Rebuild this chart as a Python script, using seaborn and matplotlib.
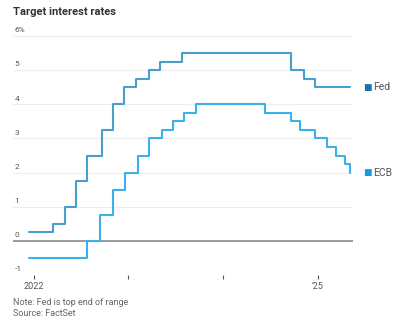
import matplotlib
matplotlib.use("Agg")
import matplotlib.pyplot as plt
import pandas as pd
import seaborn as sns

fed_dates = ['2021-12-15', '2022-03-16', '2022-05-04', '2022-06-15', '2022-07-27',
             '2022-09-21', '2022-11-02', '2022-12-14', '2023-02-01', '2023-03-22',
             '2023-05-03', '2023-07-26', '2024-09-18', '2024-11-07', '2024-12-18',
             '2025-05-05']
fed_vals = [0.25, 0.5, 1.0, 1.75, 2.5, 3.25, 4.0, 4.5, 4.75, 5.0, 5.25, 5.5,
            5.0, 4.75, 4.5, 4.5]

ecb_dates = ['2021-12-15', '2022-07-27', '2022-09-14', '2022-11-02', '2022-12-21',
             '2023-02-08', '2023-03-22', '2023-05-10', '2023-06-21', '2023-08-02',
             '2023-09-20', '2024-06-12', '2024-09-18', '2024-10-23', '2024-12-18',
             '2025-02-05', '2025-03-12', '2025-04-16', '2025-05-03', '2025-05-05']
ecb_vals = [-0.5, 0.0, 0.75, 1.5, 2.0, 2.5, 3.0, 3.25, 3.5, 3.75, 4.0, 3.75,
            3.5, 3.25, 3.0, 2.75, 2.5, 2.25, 2.0, 2.0]

series_names = ['Fed', 'ECB']
line_colors = {'Fed': '#489fcb', 'ECB': '#3bb0ea'}
legend_colors = {'Fed': '#1a72aa', 'ECB': '#149ade'}

y_ticks = [-1, 0, 1, 2, 3, 4, 5, 6]
y_labels = ['-1', '0', '1', '2', '3', '4', '5', '6%']
x_tick_years = ['2022-01-01', '2023-01-01', '2024-01-01', '2025-01-01']
x_tick_labels = ['2022', '', '', '\u201925']

df = pd.concat([
    pd.DataFrame({'date': pd.to_datetime(fed_dates), 'rate': fed_vals, 'bank': 'Fed'}),
    pd.DataFrame({'date': pd.to_datetime(ecb_dates), 'rate': ecb_vals, 'bank': 'ECB'}),
])

sns.set_theme(style='white')
plt.rcParams['font.family'] = ['Roboto', 'DejaVu Sans']

fig = plt.figure(figsize=(4.0, 3.21), dpi=100)
ax = fig.add_axes([0.0325, 0.143, 0.85, 0.745])

for name in series_names:
    sub = df[df['bank'] == name]
    sns.lineplot(data=sub, x='date', y='rate', ax=ax, color=line_colors[name],
                 linewidth=1.5, drawstyle='steps-post', legend=False)

ax.set_ylim(-1, 6)
ax.set_xlim(pd.Timestamp('2021-10-14'), pd.Timestamp('2025-05-15'))

for sp in ax.spines.values():
    sp.set_visible(False)

for v in y_ticks:
    if v == 0:
        ax.axhline(v, color='#8a8a8a', linewidth=1.2, zorder=1)
    else:
        ax.axhline(v, color='#ededed', linewidth=0.8, zorder=0)

ax.set_yticks([])
ax.set_ylabel('')
ax.set_xlabel('')
for v, lab in zip(y_ticks, y_labels):
    ax.annotate(lab, xy=(0, v), xycoords=('axes fraction', 'data'),
                xytext=(1, 2), textcoords='offset points', ha='left', va='bottom',
                fontsize=6, color='#555555')

ax.set_xticks(pd.to_datetime(x_tick_years))
ax.set_xticklabels(x_tick_labels)
ax.tick_params(axis='x', direction='out', length=3, width=0.8, color='#555555',
               labelsize=6.5, labelcolor='#555555', pad=2, bottom=True)

last_vals = {'Fed': fed_vals[-1], 'ECB': ecb_vals[-1]}
for name in series_names:
    ax.annotate('\u25A0', xy=(1.0, last_vals[name]), xycoords=('axes fraction', 'data'),
                xytext=(7, 0), textcoords='offset points', ha='left', va='center',
                fontsize=6.5, color=legend_colors[name], family='DejaVu Sans')
    ax.annotate(name, xy=(1.0, last_vals[name]), xycoords=('axes fraction', 'data'),
                xytext=(14.5, 0), textcoords='offset points', ha='left', va='center',
                fontsize=7.5, color='#555555')

fig.text(0.0325, 0.962, 'Target interest rates', fontsize=8, fontweight='bold',
         color='#333333', ha='left', va='center')
fig.text(0.0325, 0.058, 'Note: Fed is top end of range', fontsize=6.5,
         color='#666666', ha='left', va='center')
fig.text(0.0325, 0.024, 'Source: FactSet', fontsize=6.5,
         color='#666666', ha='left', va='center')

fig.savefig('out.png', dpi=100)
